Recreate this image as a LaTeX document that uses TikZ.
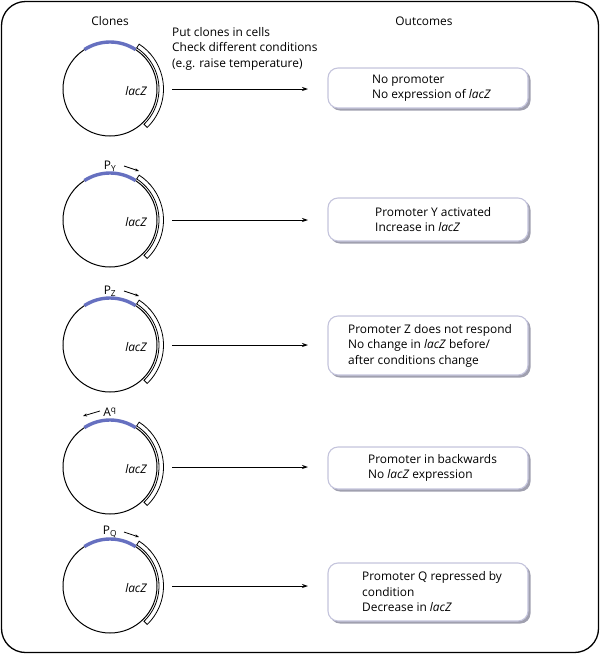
\documentclass[tikz,border=0pt]{standalone}
\usepackage{fontspec}
\setmainfont{Open Sans}
\usetikzlibrary{arrows.meta,calc}
\definecolor{promblue}{RGB}{102,112,192}
\definecolor{boxedge}{RGB}{196,196,220}
\definecolor{boxshadow}{RGB}{160,160,175}
\tikzset{
  txt/.style={font=\fontsize{11.9}{15.5}\selectfont, inner sep=0pt, align=left},
  plasmid/.style={line width=1pt},
  promoter/.style={line width=3.4pt, promblue},
  genebox/.style={line width=0.8pt, fill=white},
  flow/.style={line width=0.8pt, -{Stealth[length=6pt,width=4pt]}},
  dirarrow/.style={line width=0.8pt, -{Stealth[length=4pt,width=3pt]}},
  outbox/.style={draw=boxedge, line width=1.1pt, fill=white, rounded corners=10pt},
  outshadow/.style={fill=boxshadow, rounded corners=10pt},
}
\begin{document}
\begin{tikzpicture}[x=1pt,y=-1pt]
\useasboundingbox (0,0) rectangle (600,654);
\draw[line width=1.3pt, rounded corners=24pt] (1.5,1.5) rectangle (598.5,652.5);

\node[txt] (hclones) at (110,21) {Clones};
\node[txt] (houtcomes) at (424,21) {Outcomes};
\node[txt, anchor=north west] (hput) at (172,27) {Put clones in cells\\Check different conditions\\(e.g. raise temperature)};

\foreach \cy/\n in {89/1,220/2,345/3,467/4,586/5}{
  \coordinate (c\n) at (110,\cy);
  \draw[plasmid] (c\n) circle[radius=47pt];
  \draw[promoter] (c\n) ++(123:47pt) arc[start angle=123,end angle=57,radius=47pt];
  \draw[genebox] (c\n) ++(57:49pt) arc[start angle=57,end angle=-46,radius=49pt] -- ++(-46:4.5pt) arc[start angle=-46,end angle=57,radius=53.5pt] -- cycle;
  \node[txt, font=\fontsize{11.9}{13}\selectfont\itshape] (lac\n) at ($(c\n)+(26,2)$) {lacZ};
  \coordinate (as\n) at (172,\cy);
  \coordinate (ae\n) at (308,\cy);
  \draw[flow] (as\n) -- (ae\n);
}

\node[txt] (py) at ($(c2)+(0,-54)$) {P\textsubscript{Y}};
\coordinate (py1) at ($(c2)+(14,-54)$); \coordinate (py2) at ($(c2)+(29,-49)$);
\draw[dirarrow] (py1) -- (py2);
\node[txt] (pz) at ($(c3)+(0,-54)$) {P\textsubscript{Z}};
\coordinate (pz1) at ($(c3)+(14,-54)$); \coordinate (pz2) at ($(c3)+(29,-49)$);
\draw[dirarrow] (pz1) -- (pz2);
\node[txt] (pa) at ($(c4)+(0,-55)$) {A\textsuperscript{q}};
\coordinate (pa1) at ($(c4)+(-10,-56)$); \coordinate (pa2) at ($(c4)+(-27,-51)$);
\draw[dirarrow] (pa1) -- (pa2);
\node[txt] (pq) at ($(c5)+(0,-54)$) {P\textsubscript{Q}};
\coordinate (pq1) at ($(c5)+(14,-54)$); \coordinate (pq2) at ($(c5)+(29,-49)$);
\draw[dirarrow] (pq1) -- (pq2);

\foreach \t/\b/\n in {68/108/1,198/241/2,316/375/3,447/489/4,563/621/5}{
  \fill[outshadow] (330,\t+2) rectangle (530.5,\b+2.5);
  \draw[outbox] (328,\t) rectangle (528,\b);
}
\node[txt, anchor=west] (o1) at (372,88) {No promoter\\No expression of \textit{lacZ}};
\node[txt, anchor=west] (o2) at (375,219.5) {Promoter Y activated\\Increase in \textit{lacZ}};
\node[txt, anchor=west] (o3) at (348,345.5) {Promoter Z does not respond\\No change in \textit{lacZ} before/\\after conditions change};
\node[txt, anchor=west] (o4) at (368,468) {Promoter in backwards\\No \textit{lacZ} expression};
\node[txt, anchor=west] (o5) at (362,592) {Promoter Q repressed by\\condition\\Decrease in \textit{lacZ}};
\end{tikzpicture}
\end{document}
